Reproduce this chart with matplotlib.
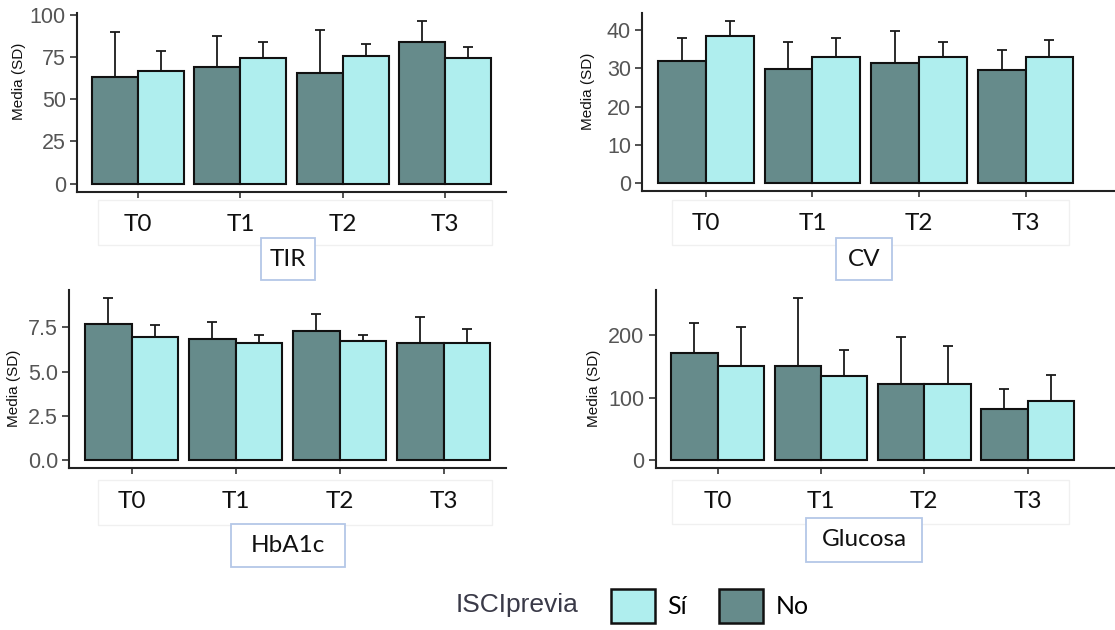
import matplotlib
matplotlib.use("Agg")
import matplotlib.pyplot as plt
from matplotlib.patches import Rectangle, Patch
import numpy as np

# data (mean and SD per period)
periods = ["T0", "T1", "T2", "T3"]
groups = ["Sí", "No"]

tir_no = [63.5, 69.0, 65.9, 83.8]
tir_no_sd = [26.2, 18.6, 25.1, 12.6]
tir_si = [67.0, 74.7, 76.0, 74.6]
tir_si_sd = [11.5, 9.3, 7.0, 6.3]

cv_no = [31.9, 29.9, 31.5, 29.5]
cv_no_sd = [6.0, 7.1, 8.4, 5.4]
cv_si = [38.4, 32.9, 32.9, 32.9]
cv_si_sd = [4.0, 5.0, 4.1, 4.6]

hba1c_no = [7.69, 6.84, 7.26, 6.61]
hba1c_no_sd = [1.45, 0.98, 0.99, 1.44]
hba1c_si = [6.95, 6.61, 6.71, 6.61]
hba1c_si_sd = [0.66, 0.46, 0.36, 0.80]

glu_no = [171.6, 150.2, 122.4, 82.3]
glu_no_sd = [47.1, 108.6, 74.9, 31.6]
glu_si = [150.2, 135.2, 122.4, 94.6]
glu_si_sd = [62.6, 40.2, 59.4, 41.1]

COL_NO = "#668B8B"
COL_SI = "#AFEEEE"
TICK_GREY = "#555555"

W, H = 1115, 630
fig = plt.figure(figsize=(W / 100, H / 100), dpi=100)
fig.patch.set_facecolor("white")


def px_rect(x0, y0, x1, y1, **kw):
    return Rectangle((x0 / W, 1 - y1 / H), (x1 - x0) / W, (y1 - y0) / H,
                     transform=fig.transFigure, **kw)


def panel(box, no, no_sd, si, si_sd, yticks, fmt, xmax, label_pos):
    x0, y0, x1, y1 = box
    ax = fig.add_axes([x0 / W, 1 - y1 / H, (x1 - x0) / W, (y1 - y0) / H])
    x = np.arange(len(periods))
    w = 0.45
    ax.errorbar(x - w / 2, no, yerr=[np.zeros(len(no)), no_sd], fmt="none",
                ecolor="#1a1a1a", elinewidth=1.3, capsize=3.3, capthick=1.3, zorder=1)
    ax.errorbar(x + w / 2, si, yerr=[np.zeros(len(si)), si_sd], fmt="none",
                ecolor="#1a1a1a", elinewidth=1.3, capsize=3.3, capthick=1.3, zorder=1)
    ax.bar(x - w / 2, no, w, color=COL_NO, edgecolor="#111111", linewidth=1.5, zorder=2)
    ax.bar(x + w / 2, si, w, color=COL_SI, edgecolor="#111111", linewidth=1.5, zorder=2)

    # ggplot-like 5% expansion around [0, max(mean + sd)]
    top = max(np.max(np.add(no, no_sd)), np.max(np.add(si, si_sd)))
    ax.set_ylim(-0.05 * top, 1.05 * top)
    ax.set_xlim(-0.6, xmax)
    ax.set_yticks(yticks)
    ax.set_yticklabels([fmt.format(v) for v in yticks], fontsize=15.5,
                       color=TICK_GREY, family="Liberation Sans")
    ax.set_xticks(x)
    ax.set_xticklabels(periods, fontsize=17.5, family="Lato", color="#111111")
    ax.tick_params(axis="y", length=5, width=1.2, color="#333333", pad=3)
    ax.tick_params(axis="x", length=4, width=1.2, color="#333333", pad=12)
    for s in ["top", "right"]:
        ax.spines[s].set_visible(False)
    for s in ["left", "bottom"]:
        ax.spines[s].set_linewidth(1.5)
        ax.spines[s].set_color("#222222")
    ax.set_ylabel("Media (SD)", fontsize=11, family="Liberation Sans", color="#111111")
    ax.yaxis.set_label_coords(*label_pos)
    ax.set_facecolor("none")
    return ax


panel((77, 13, 506, 191.7), tir_no, tir_no_sd, tir_si, tir_si_sd,
      [0, 25, 50, 75, 100], "{:.0f}", 3.6, (-0.119, 0.616))
panel((642, 13, 1115, 191), cv_no, cv_no_sd, cv_si, cv_si_sd,
      [0, 10, 20, 30, 40], "{:.0f}", 3.84, (-0.100, 0.558))
panel((69.3, 290, 506, 468.3), hba1c_no, hba1c_no_sd, hba1c_si, hba1c_si_sd,
      [0, 2.5, 5.0, 7.5], "{:.1f}", 3.6, (-0.110, 0.449))
panel((655.7, 290, 1115, 468.3), glu_no, glu_no_sd, glu_si, glu_si_sd,
      [0, 100, 200], "{:.0f}", 3.846, (-0.1185, 0.449))

# faint frames behind the period labels
for r in [(98, 200, 492, 245), (672, 200, 1069, 245),
          (98, 480, 492, 525), (672, 480, 1069, 524)]:
    fig.add_artist(px_rect(*r, fill=False, edgecolor="#f0f0f0", linewidth=1))

# panel titles in light-blue boxes
titles = ["TIR", "CV", "HbA1c", "Glucosa"]
title_boxes = [(261, 238, 315, 280), (836, 238, 892, 280),
               (231, 524, 345, 567), (806, 518, 922, 562)]
for t, b in zip(titles, title_boxes):
    fig.add_artist(px_rect(*b, facecolor="white", edgecolor="#B4C7E7", linewidth=1.3))
    fig.text((b[0] + b[2]) / 2 / W, 1 - (b[1] + b[3]) / 2 / H, t, fontsize=17.5,
             family="Lato", ha="center", va="center", color="#111111")

# legend
fig.text(456 / W, 1 - 605 / H, "ISCIprevia", fontsize=19, family="Liberation Sans",
         color="#3a3a48", ha="left", va="center")
handles = [Patch(facecolor=COL_SI, edgecolor="#111111", linewidth=1.8),
           Patch(facecolor=COL_NO, edgecolor="#111111", linewidth=1.8)]
fig.legend(handles, groups, loc="center left", bbox_to_anchor=(611 / W, 1 - 606 / H),
           ncol=2, frameon=False, handlelength=1.75, handleheight=1.75,
           handletextpad=0.5, columnspacing=1.3, borderpad=0, borderaxespad=0,
           prop={"family": "Lato", "size": 18})

fig.savefig("out.png", dpi=100)
